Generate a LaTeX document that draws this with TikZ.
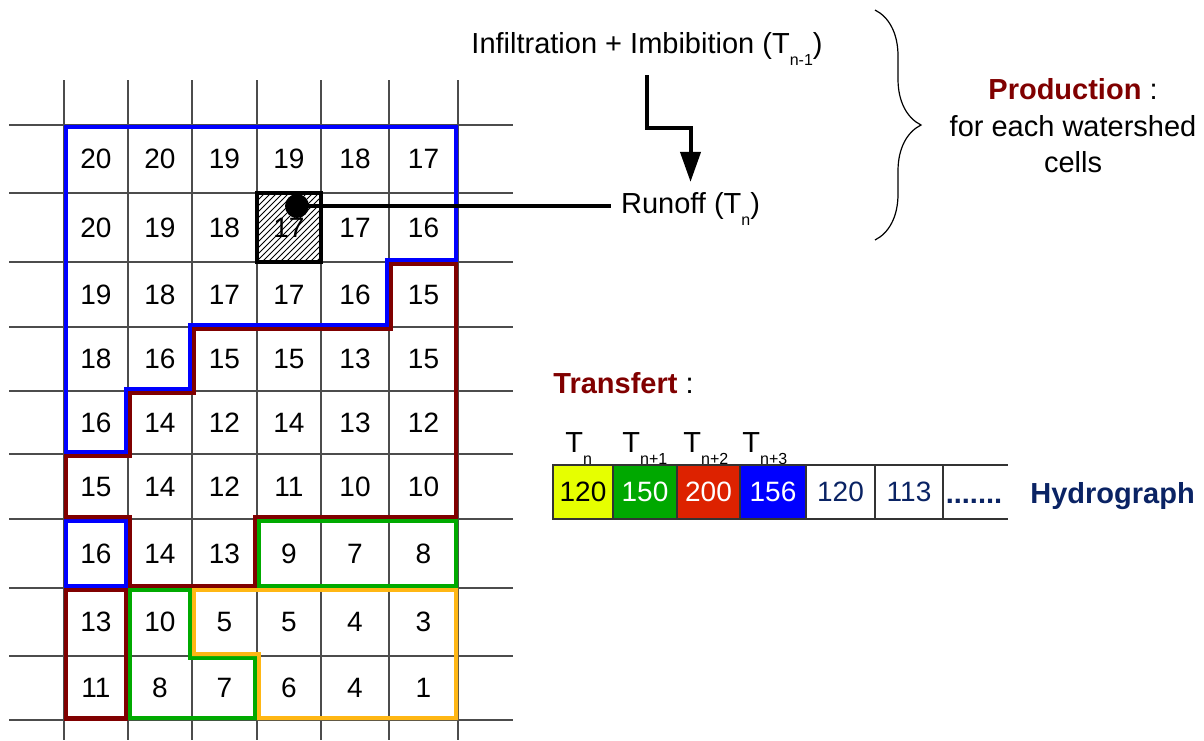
\documentclass[tikz,border=0pt]{standalone}
\usepackage{fontspec}
\setmainfont{Liberation Sans}
\usetikzlibrary{arrows.meta,patterns,decorations.pathreplacing}
\definecolor{zblue}{RGB}{0,0,255}
\definecolor{zmaroon}{RGB}{128,0,0}
\definecolor{zgreen}{RGB}{0,170,0}
\definecolor{zorange}{RGB}{255,183,20}
\definecolor{hyellow}{RGB}{230,255,0}
\definecolor{hgreen}{RGB}{0,168,0}
\definecolor{hred}{RGB}{221,34,0}
\definecolor{hblue}{RGB}{0,0,255}
\definecolor{hnavy}{RGB}{10,35,100}
\newcommand{\low}[1]{\raisebox{-6pt}{\fontsize{8}{8}\selectfont #1}}
\newcommand{\wzone}[2]{\begin{scope}\clip #2;\draw[#1, line width=4pt, line join=miter] #2;\end{scope}}

\begin{document}
\begin{tikzpicture}[x=0.5pt, y=-0.5pt,
  gridline/.style={black!70, line width=0.6pt},
  cellnum/.style={inner sep=0pt, anchor=center, font=\fontsize{14}{17}\selectfont},
  flow/.style={line width=2pt, -{Triangle[width=10pt,length=15pt]}},
  link/.style={line width=2pt},
  tlabel/.style={anchor=base west, inner sep=0pt},
  hbox/.style={draw=black!80, line width=0.6pt}]
\fontsize{14.5}{17.5}\selectfont
\useasboundingbox (0,0) rectangle (1204,740);

\foreach \x in {64,128,192,257,321,389,458}
  \draw[gridline] (\x,80) -- (\x,740);
\foreach \y in {125,193,262,327,391,454,519,588,656,720}
  \draw[gridline] (9,\y) -- (513,\y);

\foreach \x [count=\c] in {96,160,224.5,289,355,423.5}
  \coordinate (col\c) at (\x,0);
\foreach \y [count=\r] in {159,227.5,294.5,359,422.5,486.5,553.5,622,688}
  \coordinate (row\r) at (0,\y);
\foreach \vals [count=\r] in {{20,20,19,19,18,17},{20,19,18,17,17,16},{19,18,17,17,16,15},{18,16,15,15,13,15},{16,14,12,14,13,12},{15,14,12,11,10,10},{16,14,13,9,7,8},{13,10,5,5,4,3},{11,8,7,6,4,1}}
  \foreach \v [count=\c] in \vals
    \node[cellnum] (n\r-\c) at (col\c |- row\r) {\v};

\fill[pattern=north east lines] (257,193) rectangle (321,262);
\draw[line width=2pt] (257,193) rectangle (321,262);

\wzone{zblue}{(64,125) -- (458,125) -- (458,262) -- (389,262) -- (389,327) -- (192,327) -- (192,391) -- (128,391) -- (128,454) -- (64,454) -- cycle}
\wzone{zblue}{(64,519) rectangle (128,588)}
\wzone{zmaroon}{(389,262) -- (458,262) -- (458,519) -- (257,519) -- (257,588) -- (128,588) -- (128,519) -- (64,519) -- (64,454) -- (128,454) -- (128,391) -- (192,391) -- (192,327) -- (389,327) -- cycle}
\wzone{zmaroon}{(64,588) rectangle (128,720)}
\wzone{zgreen}{(257,519) rectangle (458,588)}
\wzone{zgreen}{(128,588) -- (192,588) -- (192,656) -- (257,656) -- (257,720) -- (128,720) -- cycle}
\wzone{zorange}{(192,588) -- (458,588) -- (458,720) -- (257,720) -- (257,656) -- (192,656) -- cycle}

\node[circle, fill, inner sep=0pt, minimum size=12pt] (outlet) at (297,206) {};
\node[anchor=base west] (runoff) at (611,213) {Runoff (T\low{n})};
\draw[link] (outlet.center) -- (runoff.west |- outlet.center);

\node[anchor=base] (infil) at (647,53) {Infiltration + Imbibition (T\low{n-1})};
\draw[flow] (infil.south) -- ++(0,53) -| (runoff.north);

\draw[line width=0.6pt, decorate, decoration={brace, amplitude=23pt}] (875,10) -- (875,240);
\node[align=center, font=\fontsize{14.5}{18.3}\selectfont] (prod) at (1073,126) {\textcolor{zmaroon}{\textbf{Production}} :\\for each watershed\\cells};

\node[anchor=base west, inner sep=0pt] (transfert) at (553,393) {\textcolor{zmaroon}{\textbf{Transfert}} :};
\foreach \x/\s [count=\i] in {565/n, 622/n+1, 683/n+2, 742/n+3}
  \node[tlabel] (t\i) at (\x,452) {T\low{\s}};

\foreach \xa/\xb/\bg/\fg/\v [count=\i] in {553/613/hyellow/black/120, 613/677/hgreen/white/150, 677/740/hred/white/200, 740/806/hblue/white/156, 806/875/white/hnavy/120, 875/943/white/hnavy/113}
{
  \draw[hbox, fill=\bg] (\xa,465) rectangle (\xb,519);
  \node[cellnum, text=\fg] (h\i) at ({(\xa+\xb)/2},492) {\v};
}
\draw[hbox] (943,465) -- (1008,465);
\draw[hbox] (943,519) -- (1008,519);
\node[anchor=base, text=hnavy] (dots) at (974,503) {\textbf{.......}};
\node[anchor=base west, inner sep=0pt, text=hnavy] (hydro) at (1030,503) {\textbf{Hydrograph}};
\end{tikzpicture}
\end{document}
